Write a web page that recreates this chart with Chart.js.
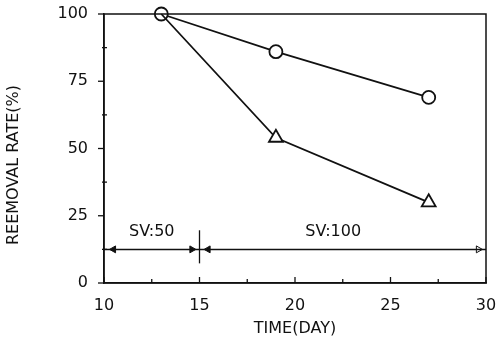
<!DOCTYPE html>
<html>
<head>
<meta charset="utf-8">
<script src="https://cdn.jsdelivr.net/npm/chart.js@4/dist/chart.umd.min.js"></script>
<style>
  html, body { margin: 0; padding: 0; background: #fff; }
  #wrap { width: 497px; height: 338px; }
</style>
</head>
<body>
<div id="wrap"><canvas id="chart" width="497" height="338"></canvas></div>
<script>
// measured points (time in days, removal rate in %)
const days = [13, 19, 27];
const circleRate = [100, 86, 69];
const triangleRate = [100, 54, 30];

// SV period annotation
const svLevel = 12.5;
const svLineX = [10, 30];
const svDividerX = 15;
const svDividerY = [7.3, 19.6];
const arrowX = [10.5, 14.6, 15.45, 29.6];
const arrowDir = [-90, 90, -90, 90];
const arrowOpen = [false, false, false, true];
const svLabels = ['SV:50', 'SV:100'];
const svLabelX = [12.5, 22];
const svLabelY = 19;

const xTicks = [10, 15, 20, 25, 30];
const yTicks = [0, 25, 50, 75, 100];

const FONT = "'DejaVu Sans', sans-serif";
const INK = '#111';

function toPoints(xs, ys) {
    return xs.map((x, i) => ({ x: x, y: ys[i] }));
}

const framePlugin = {
    id: 'frame',
    afterDraw(chart) {
        const ctx = chart.ctx;
        const a = chart.chartArea;
        const xs = chart.scales.x;
        const ys = chart.scales.y;
        ctx.save();
        ctx.strokeStyle = INK;
        ctx.lineWidth = 1.5;
        ctx.strokeRect(a.left, a.top, a.right - a.left, a.bottom - a.top);

        // tick marks
        ctx.lineWidth = 1.3;
        ys.ticks.forEach(t => {
            const py = ys.getPixelForValue(t.value);
            const major = yTicks.includes(t.value);
            ctx.beginPath();
            if (major) { ctx.moveTo(a.left - 6, py); ctx.lineTo(a.left, py); }
            else { ctx.moveTo(a.left - 2, py); ctx.lineTo(a.left + 3, py); }
            ctx.stroke();
        });
        xs.ticks.forEach(t => {
            const px = xs.getPixelForValue(t.value);
            const major = xTicks.includes(t.value);
            ctx.beginPath();
            ctx.moveTo(px, a.bottom);
            ctx.lineTo(px, a.bottom - (major ? 6 : 4));
            ctx.stroke();
        });

        // SV labels
        ctx.fillStyle = INK;
        ctx.font = '16px ' + FONT;
        ctx.textAlign = 'center';
        ctx.textBaseline = 'middle';
        svLabels.forEach((s, i) => {
            ctx.fillText(s, xs.getPixelForValue(svLabelX[i]), ys.getPixelForValue(svLabelY));
        });

        // axis titles
        ctx.fillText('TIME(DAY)', (a.left + a.right) / 2, 329);
        ctx.translate(14, 165);
        ctx.rotate(-Math.PI / 2);
        ctx.fillText('REEMOVAL RATE(%)', 0, 0);
        ctx.restore();
    }
};

new Chart(document.getElementById('chart'), {
    type: 'scatter',
    data: {
        datasets: [
            {
                label: 'sv line',
                data: toPoints(svLineX, [svLevel, svLevel]),
                showLine: true,
                borderColor: INK,
                borderWidth: 1.5,
                pointRadius: 0,
                clip: false
            },
            {
                label: 'divider',
                data: toPoints([svDividerX, svDividerX], svDividerY),
                showLine: true,
                borderColor: INK,
                borderWidth: 1.3,
                pointRadius: 0,
                clip: false
            },
            {
                label: 'arrows',
                data: toPoints(arrowX, arrowX.map(() => svLevel)),
                showLine: false,
                pointStyle: 'triangle',
                pointRadius: 4,
                pointRotation: arrowDir,
                pointBackgroundColor: arrowOpen.map(o => o ? '#fff' : INK),
                pointBorderColor: INK,
                pointBorderWidth: 1,
                clip: false
            },
            {
                label: 'triangle',
                data: toPoints(days, triangleRate),
                showLine: true,
                borderColor: INK,
                borderWidth: 1.8,
                pointStyle: 'triangle',
                pointRadius: [0, 8, 8],
                pointBackgroundColor: '#fff',
                pointBorderColor: INK,
                pointBorderWidth: 1.8,
                clip: false
            },
            {
                label: 'circle',
                data: toPoints(days, circleRate),
                showLine: true,
                borderColor: INK,
                borderWidth: 1.8,
                pointStyle: 'circle',
                pointRadius: 6.5,
                pointBackgroundColor: '#fff',
                pointBorderColor: INK,
                pointBorderWidth: 1.8,
                clip: false
            }
        ]
    },
    options: {
        responsive: false,
        animation: false,
        layout: { autoPadding: false, padding: { top: 14, right: 11, left: 0, bottom: 0 } },
        plugins: {
            legend: { display: false },
            tooltip: { enabled: false }
        },
        scales: {
            x: {
                type: 'linear',
                min: 10,
                max: 30,
                afterFit: s => { s.height = 55; s.paddingLeft = 0; s.paddingRight = 0; },
                grid: { display: false },
                border: { display: true, color: INK, width: 1.5 },
                ticks: {
                    stepSize: 2.5,
                    autoSkip: false,
                    maxRotation: 0,
                    padding: 5,
                    color: INK,
                    font: { family: FONT, size: 16 },
                    callback: v => xTicks.includes(v) ? String(v) : ''
                }
            },
            y: {
                type: 'linear',
                min: 0,
                max: 100,
                afterFit: s => { s.width = 104; s.paddingTop = 0; s.paddingBottom = 0; },
                grid: { display: false },
                border: { display: true, color: INK, width: 1.5 },
                ticks: {
                    stepSize: 12.5,
                    autoSkip: false,
                    padding: 8,
                    color: INK,
                    font: { family: FONT, size: 16 },
                    callback: v => yTicks.includes(v) ? String(v) : ''
                }
            }
        }
    },
    plugins: [framePlugin]
});
</script>
</body>
</html>
